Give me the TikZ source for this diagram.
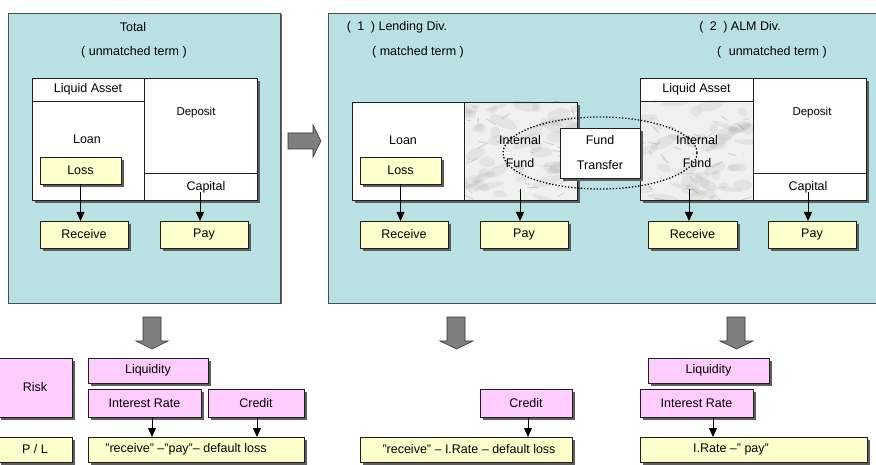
\documentclass[tikz,border=0pt]{standalone}
\usepackage{fontspec}
\setmainfont{Liberation Sans}
\usetikzlibrary{arrows.meta}

\definecolor{panelc}{HTML}{B9E0E3}
\definecolor{yel}{HTML}{FFFFCC}
\definecolor{pnk}{HTML}{FFCCFF}
\definecolor{edge}{HTML}{1E1E1E}
\definecolor{blockgray}{HTML}{7F7F7F}
\definecolor{shadowgray}{HTML}{5E5E5E}

\newcommand\txtsize[2]{\fontsize{#1}{#2}\selectfont}

% a box node with a flat gray shadow offset to the lower right
% #1 style, #2 name, #3/#4 centre, #5/#6 width/height, #7 shadow offset, #8 text
\newcommand\shadednode[8]{%
  \pgfmathsetmacro\sxa{#3-#5/2+#7}%
  \pgfmathsetmacro\sya{#4-#6/2+#7}%
  \pgfmathsetmacro\sxb{#3+#5/2+#7}%
  \pgfmathsetmacro\syb{#4+#6/2+#7}%
  \fill[shadowgray] (\sxa pt,-\sya pt) rectangle (\sxb pt,-\syb pt);
  \node[#1, minimum width=#5, minimum height=#6] (#2) at (#3,#4) {#8};
}

% marble-like texture for the internal fund cells
\newcommand\marblepatch[4]{%
  \begin{scope}
    \clip (#1,#2) rectangle (#3,#4);
    \fill[black!6] (#1,#2) rectangle (#3,#4);
    \foreach \k in {1,...,45}{%
      \pgfmathsetmacro\mx{#1+rnd*(#3-#1)}%
      \pgfmathsetmacro\my{#2+rnd*(#4-#2)}%
      \pgfmathsetmacro\rx{4+rnd*12}%
      \pgfmathsetmacro\ry{2+rnd*4}%
      \pgfmathsetmacro\ang{rnd*60-30}%
      \fill[black!45, opacity=0.13, rotate around={\ang:(\mx,\my)}] (\mx,\my) ellipse [x radius=\rx, y radius=\ry];
    }
    \foreach \k in {1,...,30}{%
      \pgfmathsetmacro\mx{#1+rnd*(#3-#1)}%
      \pgfmathsetmacro\my{#2+rnd*(#4-#2)}%
      \pgfmathsetmacro\dx{rnd*22-11}%
      \pgfmathsetmacro\dy{rnd*12-6}%
      \draw[black!60, line width=0.9pt, opacity=0.25, line cap=round] (\mx,\my) -- ++(\dx,\dy);
    }
  \end{scope}}

\tikzset{
  base/.style={inner sep=0pt, outer sep=0pt},
  panel/.style={base, draw=black!70, fill=panelc, line width=0.8pt},
  cell/.style={base, draw=edge, fill=white, line width=0.8pt, font=\txtsize{12.5}{15}},
  sheet/.style={base, draw=edge, fill=white, line width=0.8pt},
  ybox/.style={sheet, fill=yel, font=\txtsize{12.5}{15}},
  pbox/.style={sheet, fill=pnk, font=\txtsize{12.5}{15}},
  lbl/.style={base, font=\txtsize{12.5}{15}},
  arr/.style={-{Triangle[width=8pt,length=9pt]}, line width=0.8pt},
  blockarrow/.style={fill=blockgray, draw=black!80, line width=0.6pt},
  ring/.style={line width=1.3pt, dash pattern=on 1.3pt off 1.9pt},
}

\begin{document}
\begin{tikzpicture}[x=1pt, y=-1pt]
\pgfmathsetseed{17}
\useasboundingbox (0,0) rectangle (876,465);

% ---------- left panel: the bank as a whole ----------
\shadednode{panel}{tot}{144}{158}{272}{290}{1.5}{}
\node[lbl] (tTotal) at (133,27) {Total};
\node[lbl] (tTotTerm) at (134,52) {( unmatched term )};

\shadednode{sheet}{balL}{144.5}{139}{225}{122}{3}{}
\node[cell, minimum width=112, minimum height=23] (liqL) at (88,89.5) {Liquid Asset};
\node[cell, minimum width=112, minimum height=99] (loanL) at (88,150.5) {};
\node[cell, minimum width=113, minimum height=95] (depL) at (200.5,125.5) {};
\node[cell, minimum width=113, minimum height=27] (capL) at (200.5,186.5) {};
\node[lbl] (tLoanL) at (87,139) {Loan};
\node[lbl, font=\txtsize{11.5}{14}] (tDepL) at (196,113) {Deposit};
\node[lbl] (tCapL) at (206,187) {Capital};
\shadednode{ybox}{lossL}{80.5}{170.5}{81}{27}{3}{Loss}

\shadednode{ybox}{recL}{84}{234.5}{88}{27}{3}{Receive}
\shadednode{ybox}{payL}{204}{234.5}{88}{27}{3}{Pay}
\coordinate (capLsrc) at (200,192);
\draw[arr] (lossL.south) -- (lossL.south |- recL.north);
\draw[arr] (capLsrc) -- (capLsrc |- payL.north);

% block arrow to the divided view
\draw[blockarrow] (288,133) -- (313,133) -- (313,125) -- (321,141) -- (313,157)
  -- (313,149) -- (288,149) -- cycle;

% ---------- right panel: lending and ALM divisions ----------
\shadednode{panel}{div}{604}{158}{552}{290}{1.5}{}
\node[lbl] (tLend) at (397,27) {(\hspace{3pt} 1\hspace{3pt} ) Lending Div.};
\node[lbl] (tLendTerm) at (418,52) {( matched term )};
\node[lbl] (tAlm) at (740,27) {(\hspace{3pt} 2\hspace{3pt} ) ALM Div.};
\node[lbl] (tAlmTerm) at (772,52) {(\hspace{4pt} unmatched term )};

% lending division balance sheet
\shadednode{sheet}{balA}{464.5}{151}{225}{98}{3}{}
\node[cell, minimum width=112, minimum height=98] (loanA) at (408,151) {};
\marblepatch{464}{102}{577}{200}
\node[cell, fill=none, minimum width=113, minimum height=98] (intA) at (520.5,151) {};
\node[lbl] (tLoanA) at (403,140) {Loan};
\node[lbl, align=center, font=\txtsize{12.5}{23}] (tIntA) at (520,151.5) {Internal\\Fund};
\shadednode{ybox}{lossA}{400.5}{170.5}{81}{27}{3}{Loss}

% ALM division balance sheet
\shadednode{sheet}{balB}{753}{139}{226}{122}{3}{}
\node[cell, minimum width=113, minimum height=23] (liqB) at (696.5,89.5) {Liquid Asset};
\marblepatch{640}{101}{753}{200}
\node[cell, fill=none, minimum width=113, minimum height=99] (intB) at (696.5,150.5) {};
\node[cell, minimum width=113, minimum height=95] (depB) at (809.5,125.5) {};
\node[cell, minimum width=113, minimum height=27] (capB) at (809.5,186.5) {};
\node[lbl, align=center, font=\txtsize{12.5}{23}] (tIntB) at (697,151.5) {Internal\\Fund};
\node[lbl, font=\txtsize{11.5}{14}] (tDepB) at (812,113) {Deposit};
\node[lbl] (tCapB) at (808,187) {Capital};

% transfer between the two internal funds
\draw[ring] (600,153) ellipse [x radius=97, y radius=36];
\shadednode{sheet, align=center, font=\txtsize{12.5}{25}}{ftp}{600}{153}{80}{50}{3}{Fund\\Transfer}

\shadednode{ybox}{recA}{404}{234.5}{88}{27}{3}{Receive}
\shadednode{ybox}{payA}{524}{234.5}{88}{27}{3}{Pay}
\shadednode{ybox}{recB}{692.5}{234.5}{89}{27}{3}{Receive}
\shadednode{ybox}{payB}{812}{234.5}{88}{27}{3}{Pay}
\coordinate (intAsrc) at (520,189);
\coordinate (intBsrc) at (689,189);
\coordinate (capBsrc) at (808,192);
\draw[arr] (lossA.south) -- (lossA.south |- recA.north);
\draw[arr] (intAsrc) -- (intAsrc |- payA.north);
\draw[arr] (intBsrc) -- (intBsrc |- recB.north);
\draw[arr] (capBsrc) -- (capBsrc |- payB.north);

% ---------- block arrows down to the risk rows ----------
\draw[blockarrow] (143,317) -- (161,317) -- (161,341) -- (168,341) -- (152,349)
  -- (136,341) -- (143,341) -- cycle;
\draw[blockarrow] (447,317) -- (465,317) -- (465,341) -- (473,341) -- (456.5,349)
  -- (440,341) -- (447,341) -- cycle;
\draw[blockarrow] (727,317) -- (745,317) -- (745,341) -- (753,341) -- (736.5,349)
  -- (720,341) -- (727,341) -- cycle;

% ---------- risk and P/L rows ----------
\shadednode{pbox}{risk}{35}{387.5}{74}{59}{3}{Risk}
\shadednode{ybox}{pl}{35}{449.5}{74}{25}{3}{P / L}

% total
\shadednode{pbox}{liqT}{148}{370.5}{120}{25}{3}{Liquidity}
\shadednode{pbox}{irT}{144.5}{403}{113}{28}{3}{Interest Rate}
\shadednode{pbox}{crT}{256}{403}{96}{28}{3}{Credit}
\shadednode{ybox}{plT}{196}{449.5}{216}{25}{3}{}
\node[lbl] (tPlT) at (186,449.5) {"receive" –"pay"– default loss};
\draw[arr] ([xshift=7.5pt]irT.south) -- ([xshift=7.5pt]irT.south |- plT.north);
\draw[arr] ([xshift=1pt]crT.south) -- ([xshift=1pt]crT.south |- plT.north);

% lending division
\shadednode{pbox}{crA}{526}{403}{92}{28}{3}{Credit}
\shadednode{ybox}{plA}{466}{449.5}{212}{25}{3}{}
\node[lbl] (tPlA) at (469,449.5) {"receive" – I.Rate – default loss};
\draw[arr] ([xshift=2pt]crA.south) -- ([xshift=2pt]crA.south |- plA.north);

% ALM division
\shadednode{pbox}{liqB2}{708.5}{370.5}{121}{25}{3}{Liquidity}
\shadednode{pbox}{irB}{696.5}{403}{113}{28}{3}{Interest Rate}
\shadednode{ybox}{plB}{753.5}{449.5}{227}{25}{3}{}
\node[lbl] (tPlB) at (731,449.5) {I.Rate –" pay"};
\draw[arr] ([xshift=16.5pt]irB.south) -- ([xshift=16.5pt]irB.south |- plB.north);
\end{tikzpicture}
\end{document}
